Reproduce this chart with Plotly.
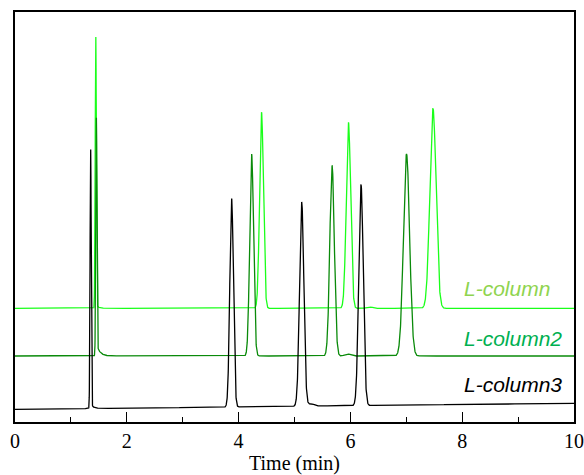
import numpy as np
import plotly.graph_objects as go

# ---- data (time in min, signal in arbitrary units) ----
names = ["L-column", "L-column2", "L-column3"]
line_colors = ["#1aff1a", "#0a8a0a", "#000000"]
label_colors = ["#8fd44f", "#00b050", "#000000"]

baseline_start = [113.7, 66.0, 12.7]
baseline_end = [113.7, 66.0, 18.7]

# retention times (min)
rt_col1 = [1.445, 4.41, 5.965, 6.335, 7.477]
rt_col2 = [1.455, 4.233, 5.672, 5.95, 7.004]
rt_col3 = [1.353, 3.875, 5.129, 5.30, 6.19]

# peak heights above baseline
h_col1 = [271, 196, 186, 1.5, 200]
h_col2 = [233, 202, 190.6, 2.0, 202]
h_col3 = [258, 208.5, 203, 2.5, 221]

# peak widths (sigma, min)
w_col1 = [0.010, 0.034, 0.039, 0.05, 0.055]
w_col2 = [0.010, 0.034, 0.040, 0.05, 0.055]
w_col3 = [0.010, 0.032, 0.038, 0.05, 0.040]

# tailing: amplitude and decay constant (min)
tail_amp_col1 = [3, 0, 0, 0, 0]
tail_amp_col2 = [12, 0, 0, 0, 0]
tail_amp_col3 = [4, 0, 1.5, 0, 0]
tail_tau_col1 = [0.05, 0.05, 0.05, 0.05, 0.05]
tail_tau_col2 = [0.06, 0.05, 0.05, 0.05, 0.05]
tail_tau_col3 = [0.05, 0.05, 0.05, 0.05, 0.05]

label_x = [8.0, 8.0, 8.0]
label_y = [134, 84, 38]

rts = [rt_col1, rt_col2, rt_col3]
hs = [h_col1, h_col2, h_col3]
ws = [w_col1, w_col2, w_col3]
tas = [tail_amp_col1, tail_amp_col2, tail_amp_col3]
tts = [tail_tau_col1, tail_tau_col2, tail_tau_col3]

t = np.arange(0, 10.0001, 0.002)


def chromatogram(i):
    y = baseline_start[i] + (baseline_end[i] - baseline_start[i]) * t / 10.0
    for rt, h, w, ta, tau in zip(rts[i], hs[i], ws[i], tas[i], tts[i]):
        y = y + h * np.exp(-0.5 * ((t - rt) / w) ** 2)
        if ta:
            d = t - rt
            step = 0.5 * (1 + np.tanh(d / w))
            y = y + ta * np.exp(-np.clip(d, 0, None) / tau) * step
    return y


fig = go.Figure()
for i in range(3):
    fig.add_trace(go.Scatter(x=t, y=chromatogram(i), mode="lines",
                             line=dict(color=line_colors[i], width=1.3),
                             name=names[i], showlegend=False, hoverinfo="skip"))
    fig.add_annotation(x=label_x[i], y=label_y[i], text="<i>%s</i>" % names[i],
                       xanchor="left", yanchor="middle", showarrow=False,
                       font=dict(family="Liberation Sans", size=21, color=label_colors[i]))

fig.update_layout(
    width=584, height=475,
    margin=dict(l=15, r=10, t=12, b=53),
    paper_bgcolor="white", plot_bgcolor="white",
    font=dict(family="Liberation Serif", size=20, color="black"),
)
fig.update_xaxes(range=[0, 10], tickvals=[0, 2, 4, 6, 8, 10], ticks="inside", ticklen=10,
                 tickwidth=1.2, tickcolor="black", ticklabelstandoff=0,
                 minor=dict(ticks="inside", ticklen=5, tickvals=[1, 3, 5, 7, 9], tickcolor="black"),
                 showline=True, linecolor="black", linewidth=1.5, mirror=True,
                 showgrid=False, zeroline=False, automargin=False,
                 title=dict(text="Time (min)", standoff=6,
                            font=dict(family="Liberation Serif", size=20)))
fig.update_yaxes(range=[0, 410], showticklabels=False, ticks="", showline=True,
                 linecolor="black", linewidth=1.5, mirror=True,
                 showgrid=False, zeroline=False, automargin=False)

post = (
    "document.body.style.margin='0';"
    "document.body.style.overflow='hidden';"
)

fig.write_html("out.html", config={"displayModeBar": False}, post_script=post)
